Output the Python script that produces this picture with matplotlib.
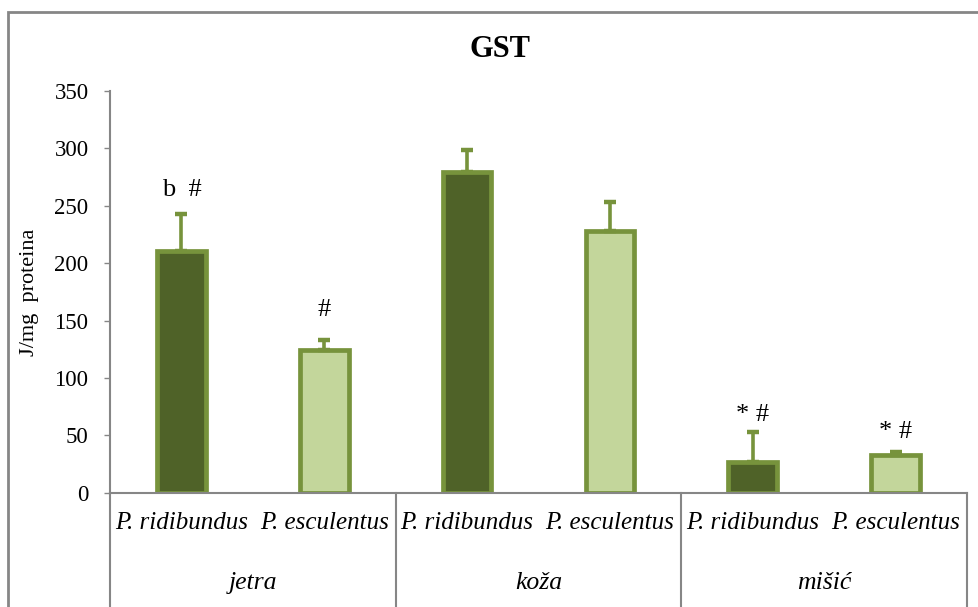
import matplotlib
matplotlib.use("Agg")
import matplotlib.pyplot as plt
from matplotlib.patches import Rectangle

plt.rcParams['font.family'] = ['Liberation Serif', 'DejaVu Serif']

# data
species = ["P. ridibundus", "P. esculentus"] * 3
tissues = ["jetra", "koža", "mišić"]
values = [211, 124, 279, 228, 26.5, 32.5]
errors = [32, 9, 20, 25, 26, 3]
marks = ["b  #", "#", "", "", "* #", "* #"]
mark_y = [264, 159, None, None, 68, 53]

DARK = "#4F6228"
LIGHT = "#C3D69B"
EDGE = "#77933C"
AXIS = "#868686"

fig = plt.figure(figsize=(9.79, 6.07), dpi=100)
ax = fig.add_axes([0.1124, 0.1883, 0.8753, 0.6618])

x = list(range(len(values)))
fills = [DARK, LIGHT] * 3
ax.bar(x, values, width=0.34, color=fills, edgecolor=EDGE, linewidth=3.4, zorder=2)
ax.errorbar(x, values, yerr=[[0] * len(errors), errors], fmt="none",
            ecolor=EDGE, elinewidth=2.6, capsize=4.5, capthick=3.2, zorder=3)

for xi, m, my in zip(x, marks, mark_y):
    if m:
        ax.text(xi, my, m, ha="center", va="center", fontsize=19)

ax.set_xlim(-0.5, 5.5)
ax.set_ylim(0, 350)
ax.set_yticks(range(0, 351, 50))
ax.tick_params(axis="y", labelsize=16.5, length=4.5, width=1, color=AXIS, pad=11)
ax.set_xticks([])
for s in ["top", "right"]:
    ax.spines[s].set_visible(False)
for s in ["left", "bottom"]:
    ax.spines[s].set_color(AXIS)
    ax.spines[s].set_linewidth(1.5)

# category table under the axis
tr = ax.get_xaxis_transform()
for xi, sp in zip(x, species):
    ax.text(xi, -0.0755, sp, transform=tr, ha="center", va="center",
            fontsize=18, style="italic")
for gi, t in enumerate(tissues):
    ax.text(2 * gi + 0.5, -0.225, t, transform=tr, ha="center", va="center",
            fontsize=18.5, style="italic")
for xd in [-0.5, 1.5, 3.5, 5.5]:
    ax.plot([xd, xd], [0, -0.4], transform=tr, color=AXIS, lw=1.5, clip_on=False)

ax.set_ylabel("J/mg  proteina", fontsize=16)
ax.yaxis.set_label_coords(-0.083, 0.5)

fig.text(0.511, 0.918, "GST", ha="center", va="center", fontsize=22, fontweight="bold")

# chart frame
fig.patches.append(Rectangle((8 / 979, -0.1), 1.2, 1 - 12 / 607 + 0.1,
                             transform=fig.transFigure, fill=False,
                             edgecolor=AXIS, linewidth=2))

fig.savefig("out.png", dpi=100)
